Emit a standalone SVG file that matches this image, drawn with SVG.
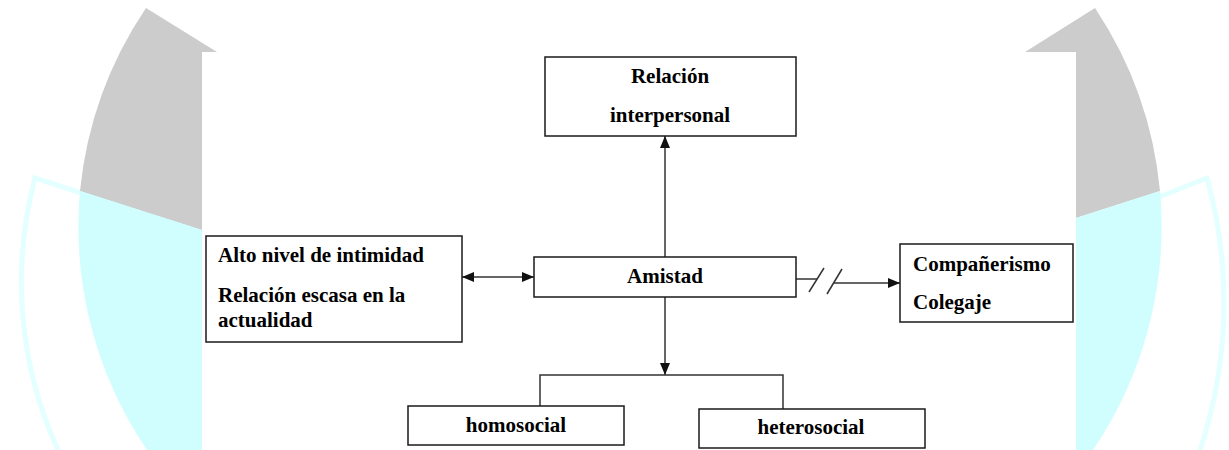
<svg xmlns="http://www.w3.org/2000/svg" width="1229" height="450" viewBox="0 0 1229 450">
  <style>
    .box { fill: #ffffff; stroke: #1a1a1a; stroke-width: 1.5; }
    .lbl { font-family: "Liberation Serif", "Times New Roman", serif; font-weight: bold; font-size: 21px; fill: #000000; }
    .mid { text-anchor: middle; }
    .con { fill: none; stroke: #333333; stroke-width: 1.5; }
    .ring { fill: none; stroke: #e3ffff; stroke-width: 5; }
    .gray { fill: #cccccc; }
    .cyan { fill: #d0fdfd; }
  </style>
  <defs>
    <marker id="arr" markerUnits="userSpaceOnUse" markerWidth="12" markerHeight="10" refX="12" refY="5" orient="auto-start-reverse">
      <path d="M0,0 L12,5 L0,10 Z" fill="#111111"/>
    </marker>
  </defs>

  <g id="background">
    <path class="ring" d="M202,232 L35,178 A404,404 0 0,0 58,450"/>
    <path class="ring" d="M1076,230 L1207,178 A466,466 0 0,1 1200,450"/>
    <path class="gray" d="M146,8 L217,52 L202,52 L202,230 L80,191 A398,398 0 0,1 146,8 Z"/>
    <path class="cyan" d="M80,191 L202,230 L202,450 L147,450 A398,398 0 0,1 80,191 Z"/>
    <path class="gray" d="M1095,8 L1025,52 L1076,52 L1076,218 L1160,191 A398,398 0 0,0 1095,8 Z"/>
    <path class="cyan" d="M1160,191 L1076,218 L1076,450 L1093,450 A398,398 0 0,0 1160,191 Z"/>
    <rect x="202" y="52" width="874" height="398" fill="#ffffff"/>
  </g>

  <g id="connectors">
    <line class="con" x1="665" y1="257" x2="665" y2="136" marker-end="url(#arr)"/>
    <line class="con" x1="462" y1="277" x2="534" y2="277" marker-start="url(#arr)" marker-end="url(#arr)"/>
    <line class="con" x1="665" y1="297" x2="665" y2="375" marker-end="url(#arr)"/>
    <polyline class="con" points="540,407 540,375 783,375 783,409"/>
    <line class="con" x1="796" y1="279" x2="817" y2="279"/>
    <line class="con" x1="809" y1="292" x2="824" y2="268"/>
    <line class="con" x1="827" y1="294" x2="842" y2="269"/>
    <line class="con" x1="834" y1="283" x2="900" y2="283" marker-end="url(#arr)"/>
  </g>

  <g id="node-relacion">
    <rect class="box" x="545" y="57" width="251" height="79"/>
    <text class="lbl mid" x="670" y="83">Relación</text>
    <text class="lbl mid" x="670" y="122">interpersonal</text>
  </g>

  <g id="node-amistad">
    <rect class="box" x="534" y="257" width="262" height="40"/>
    <text class="lbl mid" x="665" y="283">Amistad</text>
  </g>

  <g id="node-intimidad">
    <rect class="box" x="206" y="236" width="256" height="106"/>
    <text class="lbl" x="218" y="262">Alto nivel de intimidad</text>
    <text class="lbl" x="218" y="302">Relación escasa en la</text>
    <text class="lbl" x="218" y="327">actualidad</text>
  </g>

  <g id="node-companerismo">
    <rect class="box" x="900" y="244" width="173" height="78"/>
    <text class="lbl" x="913" y="271">Compañerismo</text>
    <text class="lbl" x="913" y="309">Colegaje</text>
  </g>

  <g id="node-homosocial">
    <rect class="box" x="408" y="406" width="216" height="39"/>
    <text class="lbl mid" x="516" y="432">homosocial</text>
  </g>

  <g id="node-heterosocial">
    <rect class="box" x="699" y="409" width="226" height="39"/>
    <text class="lbl mid" x="811" y="434">heterosocial</text>
  </g>
</svg>
